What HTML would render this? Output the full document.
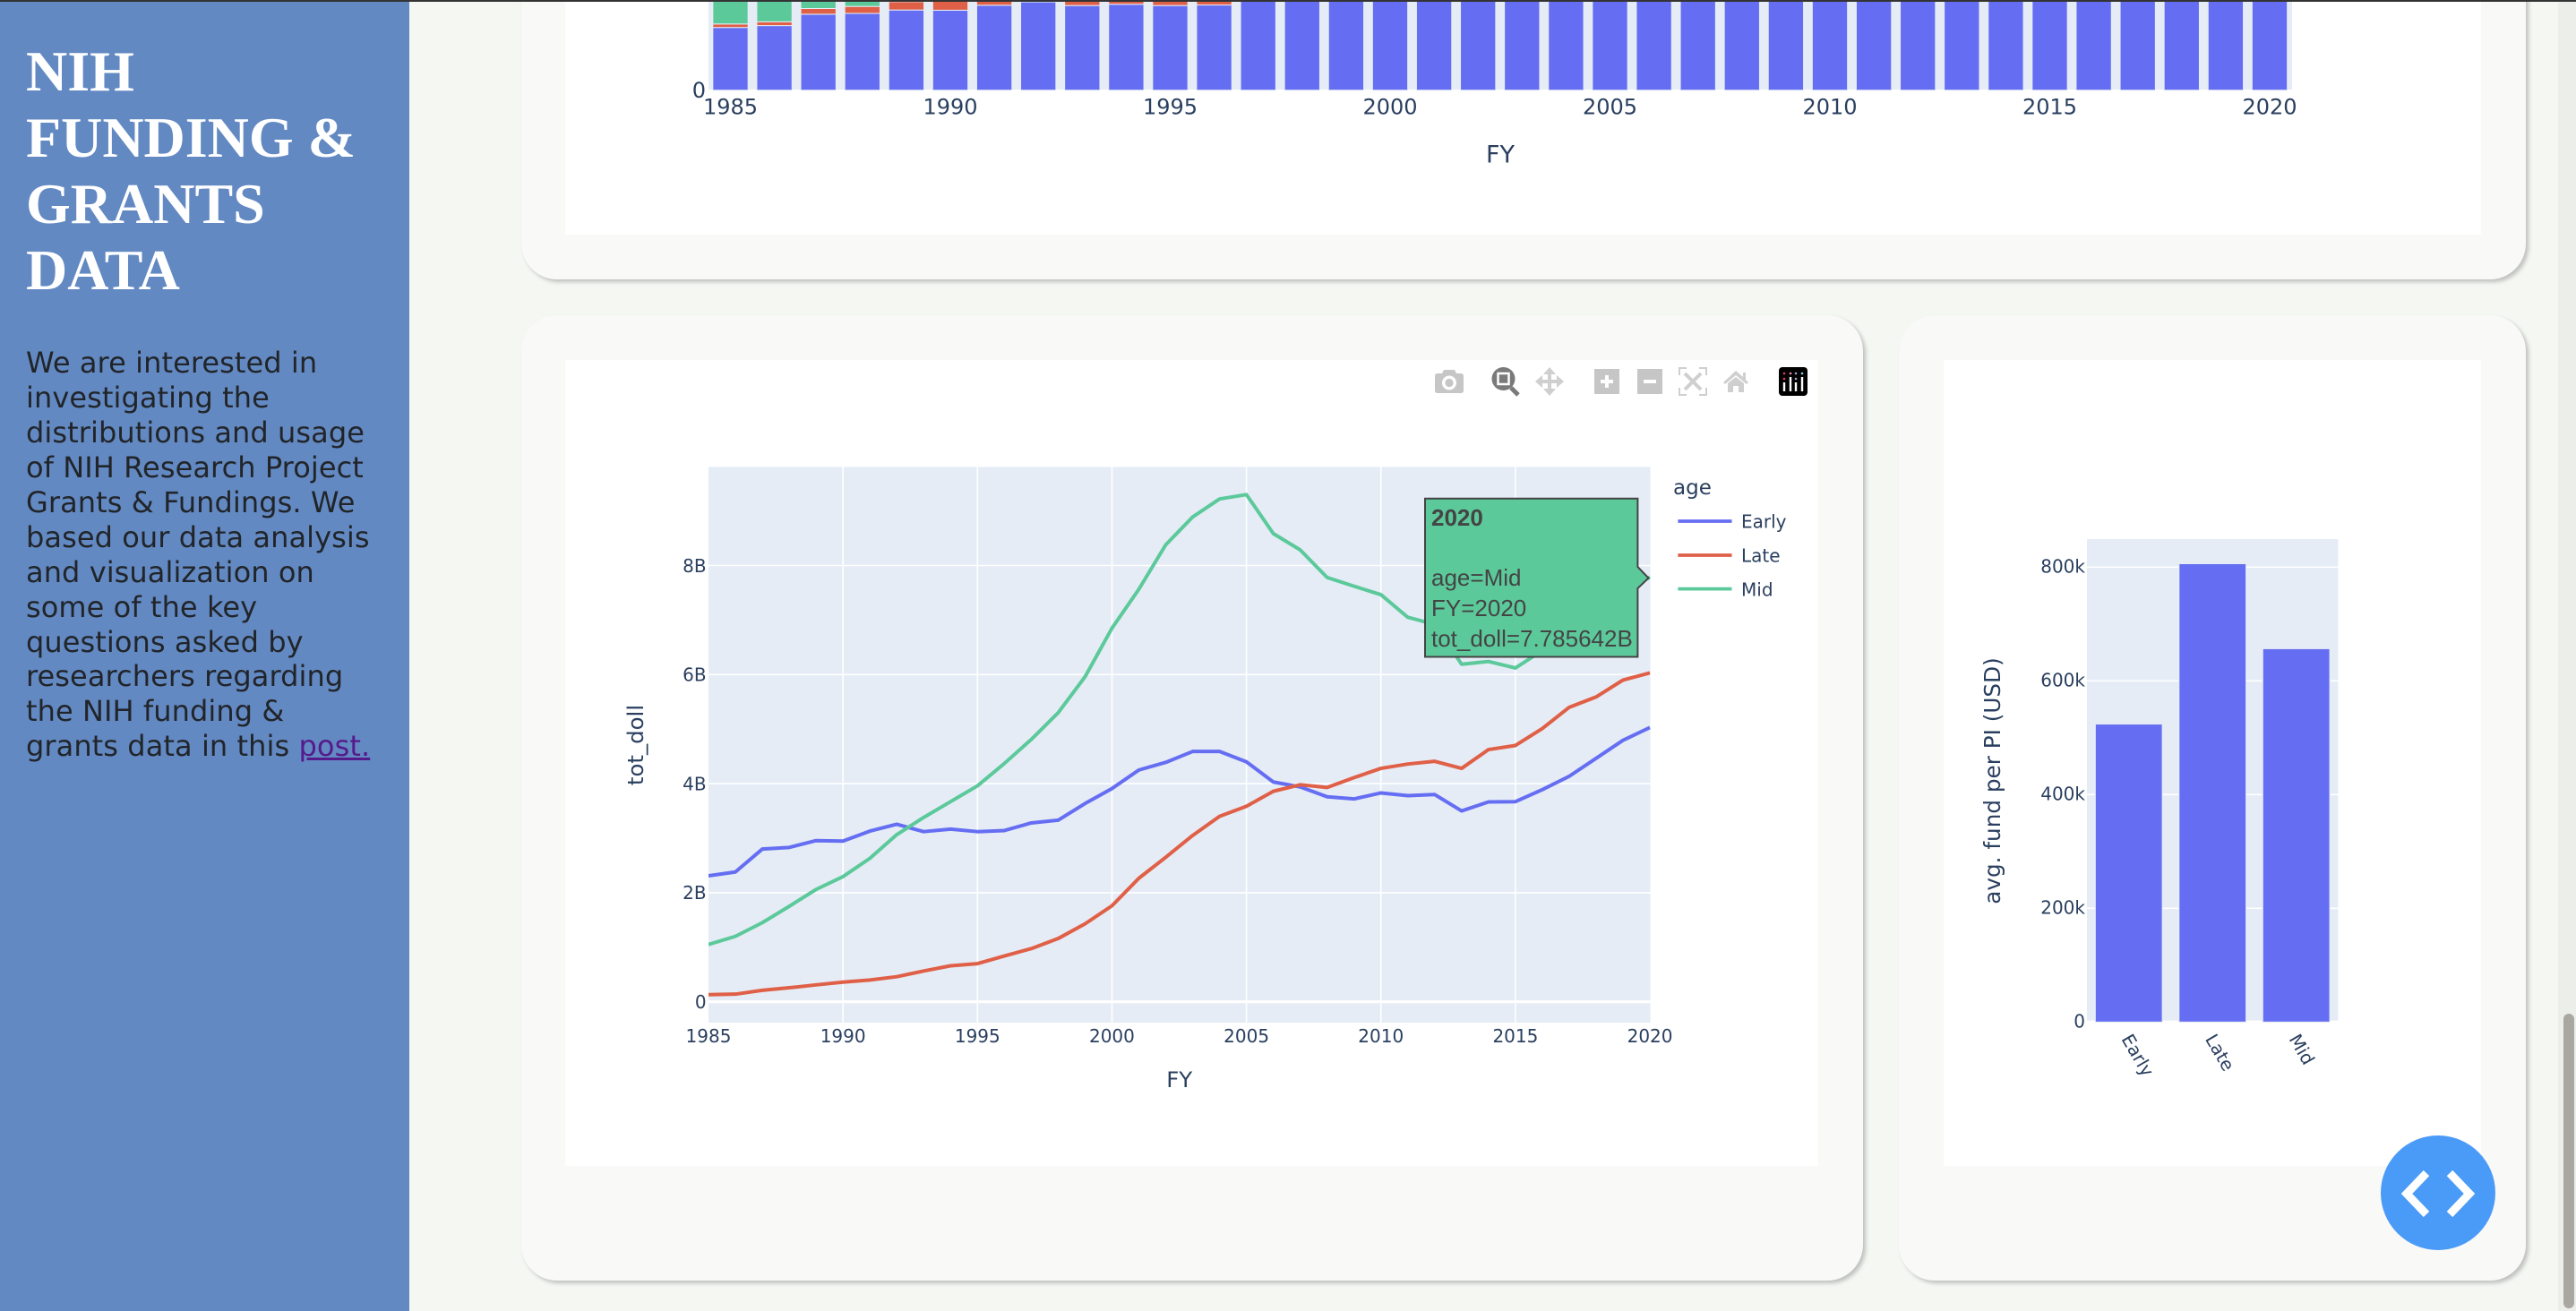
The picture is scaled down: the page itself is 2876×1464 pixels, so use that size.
<!DOCTYPE html>
<html lang="en">
<head>
<meta charset="utf-8">
<title>NIH Funding &amp; Grants Data</title>
<style>
html,body{margin:0;padding:0;width:2876px;height:1464px;overflow:hidden;background:#f5f7f3}
#sidebar{position:absolute;left:0;top:0;width:457px;height:1464px;background:#6389c3}
#sidebar h1{position:absolute;left:29px;top:43px;margin:0;font:bold 64px/74px "Liberation Serif",serif;color:#fff;white-space:nowrap}
#sidebar p{position:absolute;left:29px;top:386px;margin:0;font:32px/38.94px "DejaVu Sans",sans-serif;letter-spacing:.08px;color:#212529;white-space:nowrap}
#sidebar a{color:#551a8b;text-decoration:underline}
.card{position:absolute;background:#f9f9f7;border-radius:40px;box-shadow:3px 3px 5px rgba(0,0,0,.22)}
.plot-bg{position:absolute;background:#fff}
#topbar{position:absolute;left:0;top:0;width:2876px;height:2px;background:#333;z-index:5}
#track{position:absolute;left:2856px;top:2px;width:20px;height:1462px;background:#eceee9}
#thumb{position:absolute;left:2862px;top:1132px;width:12px;height:329px;border-radius:6px;background:#a9a79f}
#stage{position:absolute;left:0;top:0;z-index:2}
svg text{font-family:"DejaVu Sans",sans-serif;fill:#2a3f5f}
</style>
</head>
<body>
<div id="topbar"></div>
<aside id="sidebar">
  <h1>NIH<br>FUNDING &amp;<br>GRANTS<br>DATA</h1>
  <p>We are interested in<br>investigating the<br>distributions and usage<br>of NIH Research Project<br>Grants &amp; Fundings. We<br>based our data analysis<br>and visualization on<br>some of the key<br>questions asked by<br>researchers regarding<br>the NIH funding &amp;<br>grants data in this <a href="#">post.</a></p>
</aside>
<div id="track"></div>
<div id="thumb"></div>

<div class="card" style="left:582px;top:-200px;width:2238px;height:512px"></div>
<div class="plot-bg" style="left:631px;top:0;width:2139px;height:262px"></div>
<div class="card" style="left:582px;top:352px;width:1498px;height:1078px"></div>
<div class="plot-bg" style="left:631px;top:402px;width:1399px;height:900px"></div>
<div class="card" style="left:2120px;top:352px;width:700px;height:1078px"></div>
<div class="plot-bg" style="left:2170px;top:402px;width:600px;height:900px"></div>

<svg id="stage" width="2876" height="1464" viewBox="0 0 2876 1464" xmlns="http://www.w3.org/2000/svg">
  <defs>
    <clipPath id="line-clip"><rect x="791" y="521.4" width="1051.5" height="620.6"/></clipPath>
  </defs>
  <g id="stacked-chart">
    <rect x="791" y="-200" width="1768" height="300" fill="#e5ecf6"/>
    <g id="stacked-marks"></g>
    <g id="stacked-ticks"></g>
    <text x="1675" y="181.5" font-size="27" text-anchor="middle">FY</text>
  </g>

  <g id="line-chart">
    <rect x="791" y="521.4" width="1051.5" height="620.6" fill="#e5ecf6"/>
    <g id="line-grid"></g>
    <g id="line-marks" clip-path="url(#line-clip)"></g>
    <g id="line-ticks"></g>
    <text transform="translate(718 832) rotate(-90)" font-size="24.4" text-anchor="middle">tot_doll</text>
    <text x="1316.7" y="1214" font-size="24.4" text-anchor="middle">FY</text>
    <g>
      <text x="1868" y="552" font-size="23">age</text>
      <g>
        <line x1="1873.4" x2="1933.5" y1="582" y2="582" stroke="#656ef2" stroke-width="3.8"/>
        <text x="1944" y="589.6" font-size="20">Early</text>
      </g>
      <g>
        <line x1="1873.4" x2="1933.5" y1="620" y2="620" stroke="#e06047" stroke-width="3.8"/>
        <text x="1944" y="627.6" font-size="20">Late</text>
      </g>
      <g>
        <line x1="1873.4" x2="1933.5" y1="657.6" y2="657.6" stroke="#5cc99b" stroke-width="3.8"/>
        <text x="1944" y="665.4" font-size="20">Mid</text>
      </g>
    </g>
    <g>
      <path d="M1591 556.7H1828.4V633L1840.5 645.5L1828.4 657V733.5H1591Z" fill="#5cc99b" stroke="#444" stroke-width="2"/>
      <text x="1598" y="587" font-size="26" font-weight="bold" style="font-family:'Liberation Sans',sans-serif;fill:#444">2020</text>
      <text x="1598" y="654" font-size="26" style="font-family:'Liberation Sans',sans-serif;fill:#444">age=Mid</text>
      <text x="1598" y="688" font-size="26" style="font-family:'Liberation Sans',sans-serif;fill:#444">FY=2020</text>
      <text x="1598" y="722" font-size="26" style="font-family:'Liberation Sans',sans-serif;fill:#444">tot_doll=7.785642B</text>
    </g>
  </g>

  <g>
    <g>
      <path d="M1605 417H1610L1612 413H1624L1626 417H1631Q1634 417 1634 420V436Q1634 439 1631 439H1605Q1602 439 1602 436V420Q1602 417 1605 417Z" fill="#c6c6c6"/>
      <circle cx="1618" cy="427.5" r="8" fill="#fff"/><circle cx="1618" cy="427.5" r="4.6" fill="#c6c6c6"/>
    </g>
    <g>
      <line x1="1687" y1="433" x2="1695" y2="441" stroke="#7a7a7a" stroke-width="5"/>
      <circle cx="1678.5" cy="423" r="13" fill="#7a7a7a"/>
      <rect x="1672.5" y="417" width="12" height="12" fill="#7a7a7a" stroke="#fff" stroke-width="2.5"/>
    </g>
    <g fill="#cfcfcf">
      <path d="M1730 410L1737 418H1732V424H1738V419L1746 426L1738 433V428H1732V434H1737L1730 442L1723 434H1728V428H1722V433L1714 426L1722 419V424H1728V418H1723Z"/>
    </g>
    <g>
      <rect x="1780" y="412" width="28" height="28" fill="#c6c6c6"/>
      <path d="M1787 426H1801M1794 419V433" stroke="#fff" stroke-width="4"/>
    </g>
    <g>
      <rect x="1828" y="412" width="28" height="28" fill="#c6c6c6"/>
      <path d="M1835 426H1849" stroke="#fff" stroke-width="4"/>
    </g>
    <g fill="none" stroke="#cfcfcf">
      <path d="M1883 411H1875V419M1897 411H1905V419M1883 441H1875V433M1897 441H1905V433" stroke-width="2"/>
      <path d="M1881 417L1899 435M1899 417L1881 435" stroke-width="4"/>
    </g>
    <g fill="#cfcfcf">
      <path d="M1938 414L1946 421V416H1949V424L1952 427L1950 429L1938 419L1926 429L1924 427Z"/>
      <path d="M1929 428L1938 421L1947 428V438H1941V431H1935V438H1929Z"/>
    </g>
    <g>
      <rect x="1986" y="410" width="32" height="32" rx="4" fill="#000"/>
      <circle cx="1992" cy="417" r="1.3" fill="#e8366f"/><circle cx="1999" cy="417" r="1.3" fill="#e88ab0"/><circle cx="2005" cy="417" r="1.3" fill="#b49ad8"/><circle cx="2012" cy="417" r="1.3" fill="#7fd4ee"/>
      <circle cx="1992" cy="423" r="1.3" fill="#e8366f"/><circle cx="2005" cy="423" r="1.3" fill="#b49ad8"/>
      <path d="M1992 427V437M1999 421V437M2005 427V437M2012 421V437" stroke="#fff" stroke-width="2.4"/>
    </g>
  </g>

  <g id="age-chart">
    <rect x="2330" y="602" width="280.4" height="537.6" fill="#e5ecf6"/>
    <g id="age-grid"></g>
    <g id="age-marks"></g>
    <g id="age-ticks"></g>
    <text transform="translate(2233 872) rotate(-90)" font-size="24.7" text-anchor="middle">avg. fund per PI (USD)</text>
  </g>

  <g>
    <circle cx="2722" cy="1332" r="64" fill="#4a9bf8"/>
    <path d="M2709 1310L2687 1333L2709 1356M2735 1310L2757 1333L2735 1356" fill="none" stroke="#fff" stroke-width="9"/>
  </g>
</svg>

<script>
// Line / stacked chart data, in billions of USD per fiscal year
const years = [1985,1986,1987,1988,1989,1990,1991,1992,1993,1994,1995,1996,1997,1998,1999,2000,2001,2002,2003,2004,2005,2006,2007,2008,2009,2010,2011,2012,2013,2014,2015,2016,2017,2018,2019,2020];
const earlyValues = [2.31,2.38,2.80,2.83,2.955,2.947,3.13,3.255,3.12,3.167,3.12,3.14,3.28,3.33,3.636,3.91,4.25,4.39,4.59,4.59,4.40,4.03,3.94,3.76,3.72,3.83,3.78,3.80,3.50,3.665,3.67,3.89,4.135,4.465,4.795,5.03];
const lateValues = [0.13,0.14,0.21,0.257,0.31,0.36,0.40,0.46,0.565,0.66,0.70,0.84,0.975,1.16,1.43,1.76,2.265,2.65,3.05,3.40,3.585,3.86,3.98,3.93,4.11,4.28,4.36,4.41,4.28,4.625,4.70,5.01,5.40,5.59,5.90,6.03];
const midValues = [1.05,1.20,1.45,1.75,2.06,2.295,2.63,3.065,3.38,3.67,3.96,4.37,4.81,5.30,5.96,6.85,7.565,8.38,8.89,9.22,9.30,8.585,8.285,7.78,7.62,7.465,7.05,6.92,6.19,6.24,6.12,6.44,6.90,7.20,7.55,7.785];
const xTickYears = [1985,1990,1995,2000,2005,2010,2015,2020];
const lineYTicks = [0,2,4,6,8];
const lineYLabels = ['0','2B','4B','6B','8B'];

// Average funding per PI by age group, in thousands of USD
const ageCategories = ['Early','Late','Mid'];
const ageValues = [524,806,656.5];
const ageYTicks = [0,200,400,600,800];
const ageYLabels = ['0','200k','400k','600k','800k'];

const NS = 'http://www.w3.org/2000/svg';
const BLUE = '#656ef2', RED = '#e06047', GREEN = '#5cc99b', GRID = '#fff', PLOT = '#e5ecf6';

function mk(parent, tag, attrs, txt) {
  const el = document.createElementNS(NS, tag);
  for (const k in attrs) el.setAttribute(k, attrs[k]);
  if (txt !== undefined) el.textContent = txt;
  parent.appendChild(el);
  return el;
}

/* ---------- stacked bar chart (cropped by the viewport top) ---------- */
const stackX = yr => 815.5 + (yr - 1985) * 49.1;
const stackY = v => 100.7 - v * 30.3;
const stackWidth = 39.3;
const stackMarks = document.getElementById('stacked-marks');
const stackTicks = document.getElementById('stacked-ticks');
years.forEach((yr, i) => {
  const a = earlyValues[i], b = a + lateValues[i], c = b + midValues[i];
  const r1 = mk(stackMarks, 'rect', {x: stackX(yr) - stackWidth / 2, y: stackY(a), width: stackWidth, height: stackY(0) - stackY(a), fill: BLUE, stroke: PLOT, 'stroke-width': 1});
  
  
  const r2 = mk(stackMarks, 'rect', {x: stackX(yr) - stackWidth / 2, y: stackY(b), width: stackWidth, height: stackY(a) - stackY(b), fill: RED, stroke: PLOT, 'stroke-width': 1});
  
  
  const r3 = mk(stackMarks, 'rect', {x: stackX(yr) - stackWidth / 2, y: stackY(c), width: stackWidth, height: stackY(b) - stackY(c), fill: GREEN, stroke: PLOT, 'stroke-width': 1});
  
  
});
xTickYears.forEach(yr => {
  const t = mk(stackTicks, 'text', {x: stackX(yr), y: 127.7, 'font-size': 24, 'text-anchor': 'middle'}, yr);
  
  
});
const stackZero = mk(stackTicks, 'text', {x: 788, y: 109, 'font-size': 24, 'text-anchor': 'end'}, '0');



/* ---------- line chart ---------- */
const lineX = yr => 791 + (yr - 1985) * 30.03;
const lineY = v => 1118.7 - v * 60.9;
const lineGrid = document.getElementById('line-grid');
const lineMarks = document.getElementById('line-marks');
const lineTicks = document.getElementById('line-ticks');
xTickYears.slice(1, -1).forEach(yr => {
  const g = mk(lineGrid, 'line', {x1: lineX(yr), x2: lineX(yr), y1: 521.4, y2: 1142, stroke: GRID, 'stroke-width': 1.6});
  
  
});
lineYTicks.forEach((v, i) => {
  const g = mk(lineGrid, 'line', {x1: 791, x2: 1842.5, y1: lineY(v), y2: lineY(v), stroke: GRID, 'stroke-width': v === 0 ? 3.2 : 1.6});
  
  
  const t = mk(lineTicks, 'text', {x: 788.6, y: lineY(v) + 7.3, 'font-size': 20, 'text-anchor': 'end'}, lineYLabels[i]);
  
  
});
xTickYears.forEach(yr => {
  const t = mk(lineTicks, 'text', {x: lineX(yr), y: 1164, 'font-size': 20, 'text-anchor': 'middle'}, yr);
  
  
});
function linePoints(values) {
  return values.map((v, i) => lineX(years[i]).toFixed(2) + ',' + lineY(v).toFixed(2)).join(' ');
}
const earlyLine = mk(lineMarks, 'polyline', {points: linePoints(earlyValues), fill: 'none', stroke: BLUE, 'stroke-width': 4, 'stroke-linejoin': 'round'});


const lateLine = mk(lineMarks, 'polyline', {points: linePoints(lateValues), fill: 'none', stroke: RED, 'stroke-width': 4, 'stroke-linejoin': 'round'});


const midLine = mk(lineMarks, 'polyline', {points: linePoints(midValues), fill: 'none', stroke: GREEN, 'stroke-width': 4, 'stroke-linejoin': 'round'});



/* ---------- average funding bar chart ---------- */
const ageBand = 93.47;
const ageX = i => 2330 + ageBand * (i + 0.5);
const ageY = v => 1141.3 - v * 0.635;
const ageGrid = document.getElementById('age-grid');
const ageMarks = document.getElementById('age-marks');
const ageTicks = document.getElementById('age-ticks');
ageYTicks.forEach((v, i) => {
  if (v !== 0) {
    const g = mk(ageGrid, 'line', {x1: 2330, x2: 2610.4, y1: ageY(v), y2: ageY(v), stroke: GRID, 'stroke-width': 1.6});
    
    
  }
  const t = mk(ageTicks, 'text', {x: 2328, y: ageY(v) + 6.4, 'font-size': 20, 'text-anchor': 'end'}, ageYLabels[i]);
  
  
});
ageCategories.forEach((c, i) => {
  const w = ageBand * 0.8;
  const r = mk(ageMarks, 'rect', {x: ageX(i) - w / 2, y: ageY(ageValues[i]), width: w, height: ageY(0) - ageY(ageValues[i]), fill: BLUE, stroke: PLOT, 'stroke-width': 1});
  
  
  const tx = ageX(i) - 8.7, ty = 1160;
  const t = mk(ageTicks, 'text', {x: tx, y: ty, 'font-size': 20, transform: 'rotate(60 ' + tx + ' ' + ty + ')'}, c);
  
  
});
</script>
</body>
</html>
